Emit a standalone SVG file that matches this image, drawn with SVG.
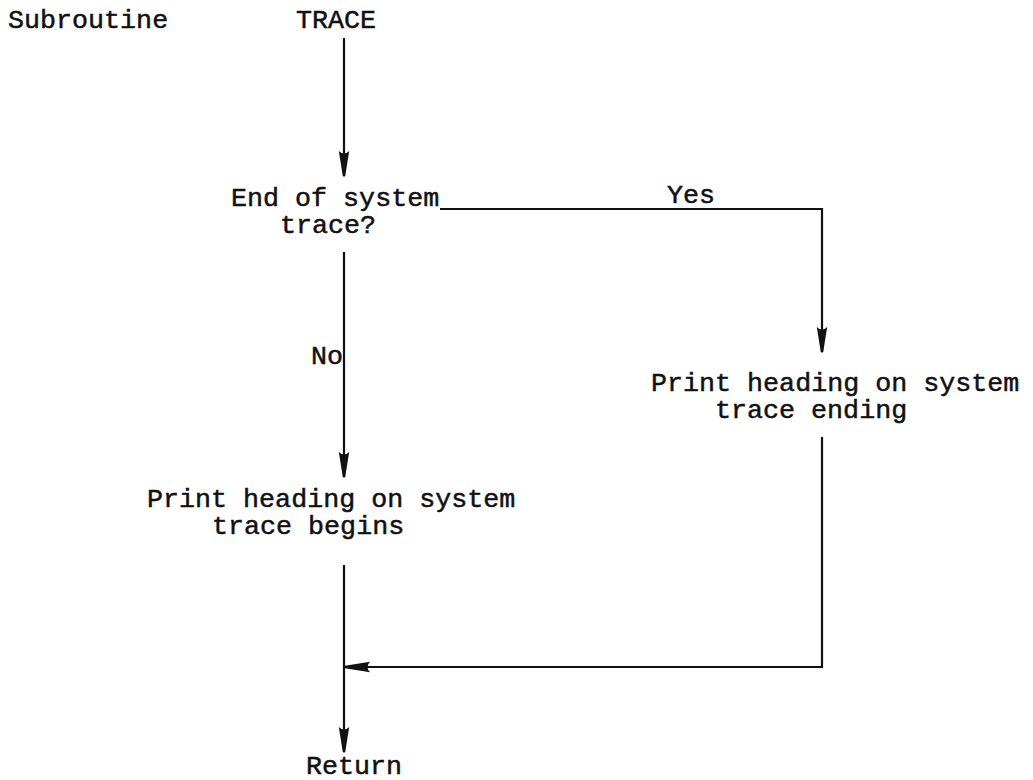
<svg xmlns="http://www.w3.org/2000/svg" width="1033" height="780" viewBox="0 0 1033 780">
<style>
text{font-family:"Liberation Mono","Courier New",monospace;font-size:26.7px;fill:#111;stroke:#111;stroke-width:0.5px}
.c{fill:none;stroke:#111;stroke-width:2.2}
</style>
<defs>
<marker id="ah" markerUnits="userSpaceOnUse" markerWidth="26" markerHeight="12" refX="25" refY="6" orient="auto" viewBox="0 0 26 12">
<path d="M0,0.8 L25,4.8 Q26,6 25,7.2 L0,11.2 Q5,6 0,0.8 Z" fill="#111"/>
</marker>
</defs>
<rect width="1033" height="780" fill="#fff"/>
<g id="title"><text x="8" y="28">Subroutine</text></g>
<g id="start"><text x="296" y="28">TRACE</text></g>
<g id="decision"><text x="231" y="206">End of system</text><text x="280" y="233">trace?</text></g>
<g id="endHeading"><text x="651" y="391">Print heading on system</text><text x="715" y="418">trace ending</text></g>
<g id="beginHeading"><text x="147" y="507">Print heading on system</text><text x="212" y="534">trace begins</text></g>
<g id="return"><text x="306" y="774">Return</text></g>
<g id="connectors">
<path class="c" d="M344,38 V176" marker-end="url(#ah)"/>
<path class="c" d="M440,209 H822 V352" marker-end="url(#ah)"/>
<text x="667" y="203">Yes</text>
<path class="c" d="M344,252 V477" marker-end="url(#ah)"/>
<text x="311" y="364">No</text>
<path class="c" d="M822,437 V667 H345" marker-end="url(#ah)"/>
<path class="c" d="M344,565 V752" marker-end="url(#ah)"/>
</g>
</svg>
